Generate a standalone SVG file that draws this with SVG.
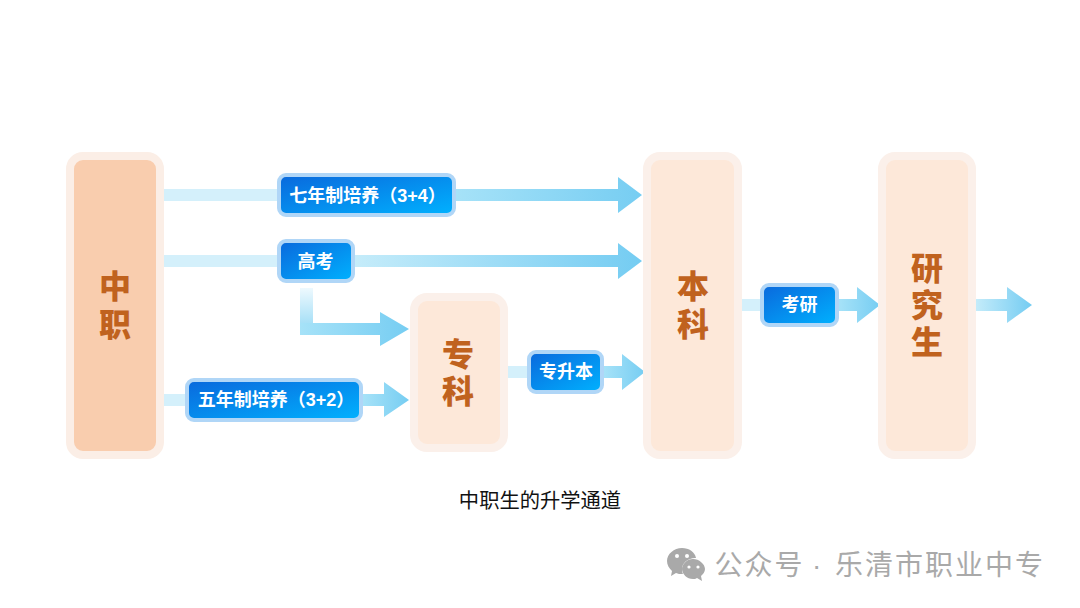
<svg xmlns="http://www.w3.org/2000/svg" width="1080" height="608" viewBox="0 0 1080 608">
<style>
text{font-family:"Liberation Sans","Noto Sans CJK SC",sans-serif;text-anchor:middle}
.big{font-size:32px;font-weight:900;fill:#c0621e}
.pill{font-size:18px;font-weight:700;fill:#fff}
.po{fill:url(#pg);stroke:#b0d6f7;stroke-width:4}
.no{fill:#fde8d9;stroke:#fbf0ea;stroke-width:8}
.lead{fill:#d4f0fb}
</style>
<defs>
<linearGradient id="pg" x1="0" y1="0" x2="1" y2="1"><stop offset="0" stop-color="#0a68dc"/><stop offset="1" stop-color="#00b2ff"/></linearGradient>
<linearGradient id="ag" x1="0" y1="0" x2="1" y2="0"><stop offset="0" stop-color="#c5ecfa"/><stop offset="1" stop-color="#74ccf2"/></linearGradient>
<linearGradient id="ag2" x1="0" y1="0" x2="1" y2="0"><stop offset="0" stop-color="#a6e2f8"/><stop offset="1" stop-color="#76cdf2"/></linearGradient>
<linearGradient id="ev" x1="0" y1="0" x2="0" y2="1"><stop offset="0" stop-color="#eef9fe"/><stop offset="1" stop-color="#a8e0f7"/></linearGradient>
</defs>
<rect width="1080" height="608" fill="#fff"/>
<g id="connectors">
<rect class="lead" x="164" y="189" width="114" height="12"/>
<path fill="url(#ag2)" d="M456 189H618V177L642 195L618 213V201H456Z"/>
<rect class="lead" x="164" y="255" width="114" height="12"/>
<path fill="url(#ag)" d="M355 255H618V243L642 261L618 279V267H355Z"/>
<path fill="url(#ev)" d="M300 288H313V323H300Z"/>
<path fill="url(#ag2)" d="M300 323H380V312L409 329L380 346V335H300Z"/>
<rect class="lead" x="164" y="394" width="22" height="12"/>
<path fill="url(#ag2)" d="M363 394H384V382L409 400L384 417V406H363Z"/>
<rect class="lead" x="507" y="366" width="21" height="12"/>
<path fill="url(#ag2)" d="M604 366H622V354L645 372L622 390V378H604Z"/>
<rect class="lead" x="741" y="299" width="20" height="12"/>
<path fill="url(#ag2)" d="M839 299H857V287L880 305L857 323V311H839Z"/>
<path fill="url(#ag)" d="M975 299H1007V287L1032 305L1007 323V311H975Z"/>
</g>
<g id="node-zhongzhi">
<rect x="70" y="156" width="90" height="299" rx="13" fill="#f9cdae" stroke="#fbeee6" stroke-width="8"/>
<text class="big"><tspan x="115" y="298">中</tspan><tspan x="115" y="336">职</tspan></text>
</g>
<g id="node-zhuanke">
<rect class="no" x="414" y="297" width="90" height="151" rx="13"/>
<text class="big"><tspan x="458" y="366">专</tspan><tspan x="458" y="403">科</tspan></text>
</g>
<g id="node-benke">
<rect class="no" x="647" y="156" width="91" height="299" rx="13"/>
<text class="big"><tspan x="693" y="298">本</tspan><tspan x="693" y="336">科</tspan></text>
</g>
<g id="node-yanjiusheng">
<rect class="no" x="882" y="156" width="90" height="299" rx="13"/>
<text class="big"><tspan x="927" y="280">研</tspan><tspan x="927" y="317">究</tspan><tspan x="927" y="354">生</tspan></text>
</g>
<g id="pill-qinian">
<rect class="po" x="279" y="175" width="175" height="40" rx="7"/>
<text class="pill" x="367.500" y="201.500">七年制培养（3+4）</text>
</g>
<g id="pill-gaokao">
<rect class="po" x="279" y="241" width="74" height="40" rx="7"/>
<text class="pill" x="315.500" y="267.500">高考</text>
</g>
<g id="pill-wunian">
<rect class="po" x="187" y="380" width="174" height="40" rx="7"/>
<text class="pill" x="276" y="405.500">五年制培养（3+2）</text>
</g>
<g id="pill-zhuansheng">
<rect class="po" x="529" y="352" width="73" height="40" rx="7"/>
<text class="pill" x="566" y="378">专升本</text>
</g>
<g id="pill-kaoyan">
<rect class="po" x="762" y="285" width="75" height="40" rx="7"/>
<text class="pill" x="799.500" y="311">考研</text>
</g>
<text x="540" y="508" font-size="20.300" fill="#111">中职生的升学通道</text>
<g id="watermark" fill="#a9a9a9">
<path d="M682 548c-8 0-15 6-15 13 0 4 2 7 5 10l-1 5 5-3c2 1 4 1 6 1l1 0c-1-2-1-3-1-5 0-6 6-11 13-11l1 0c-1-6-7-10-14-10z"/>
<path d="M693 559c-6 0-11 5-11 10s5 10 11 10c1 0 3 0 4-1l5 3-1-5c2-2 4-4 4-7 0-5-6-10-12-10z"/>
<g fill="#fff"><circle cx="677" cy="556" r="2"/><circle cx="687" cy="556" r="2"/><circle cx="689" cy="567" r="1.600"/><circle cx="698" cy="567" r="1.600"/></g>
<text y="575" font-size="28" letter-spacing="2" style="text-anchor:start"><tspan x="714.500">公众号</tspan><tspan x="812">·</tspan><tspan x="835">乐清市职业中专</tspan></text>
</g>
</svg>
